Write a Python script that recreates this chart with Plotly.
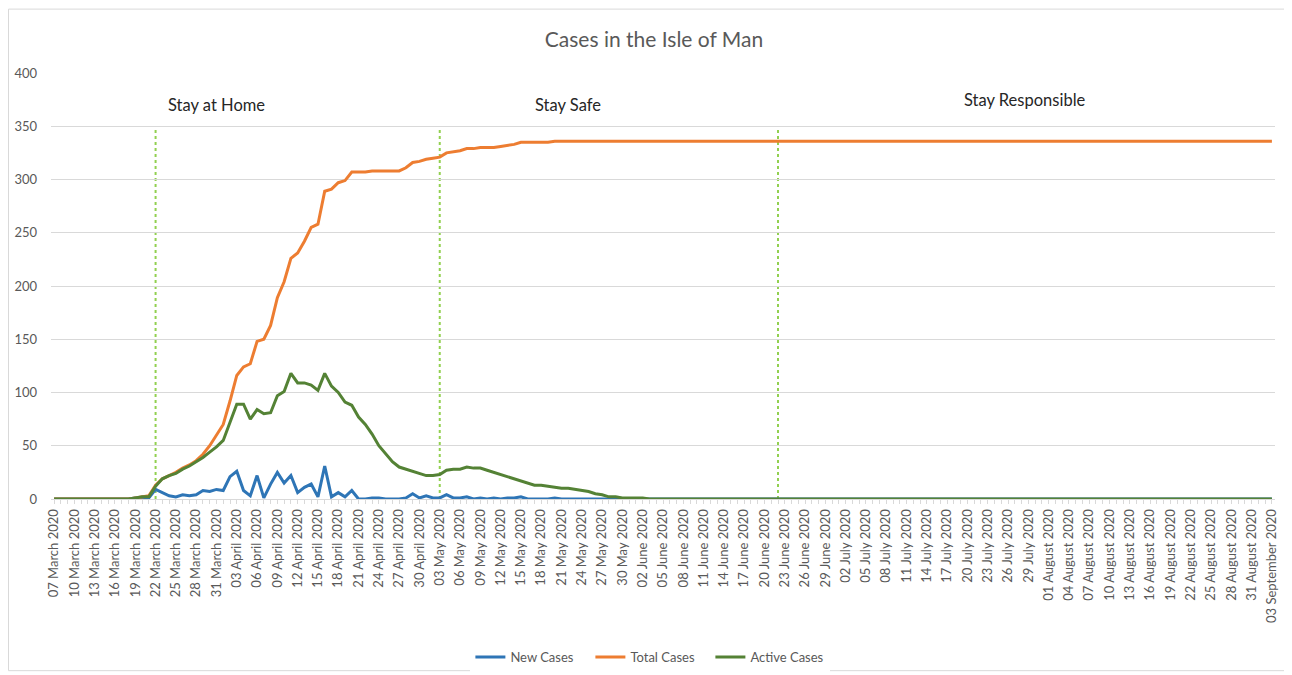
import plotly.graph_objects as go
import pandas as pd

start_date = "2020-03-07"
end_date = "2020-09-03"
dates = pd.date_range(start_date, end_date, freq="D")

new_cases = (
    # March 7-31
    [0, 0, 0, 0, 0, 0, 0, 0, 0, 0, 0, 0, 1, 1, 1, 9, 6, 3, 2, 4, 3, 4, 8, 7, 9]
    # April
    + [8, 21, 26, 8, 3, 22, 1, 14, 25, 15, 22, 6, 11, 14, 2, 31, 2, 6, 2, 8,
       0, 0, 1, 1, 0, 0, 0, 1, 5, 1]
    # May
    + [3, 1, 1, 4, 1, 1, 2, 0, 1, 0, 1, 0, 1, 1, 2, 0, 0, 0, 0, 1,
       0, 0, 0, 0, 0, 0, 0, 0, 0, 0, 0]
    # June
    + [0, 0, 0, 0, 0, 0, 0, 0, 0, 0, 0, 0, 0, 0, 0, 0, 0, 0, 0, 0,
       0, 0, 0, 0, 0, 0, 0, 0, 0, 0]
    # July
    + [0, 0, 0, 0, 0, 0, 0, 0, 0, 0, 0, 0, 0, 0, 0, 0, 0, 0, 0, 0,
       0, 0, 0, 0, 0, 0, 0, 0, 0, 0, 0]
    # August
    + [0, 0, 0, 0, 0, 0, 0, 0, 0, 0, 0, 0, 0, 0, 0, 0, 0, 0, 0, 0,
       0, 0, 0, 0, 0, 0, 0, 0, 0, 0, 0]
    # September 1-3
    + [0, 0, 0]
)

total_cases = (
    [0, 0, 0, 0, 0, 0, 0, 0, 0, 0, 0, 0, 1, 2, 3, 13, 19, 22, 25, 29, 32, 36, 42, 50, 60]
    + [70, 92, 116, 124, 127, 148, 150, 163, 189, 204, 226, 231, 242, 255, 258, 289, 291, 297, 299, 307,
       307, 307, 308, 308, 308, 308, 308, 311, 316, 317]
    + [319, 320, 321, 325, 326, 327, 329, 329, 330, 330, 330, 331, 332, 333, 335, 335, 335, 335, 335, 336,
       336, 336, 336, 336, 336, 336, 336, 336, 336, 336, 336]
    + [336, 336, 336, 336, 336, 336, 336, 336, 336, 336, 336, 336, 336, 336, 336, 336, 336, 336, 336, 336,
       336, 336, 336, 336, 336, 336, 336, 336, 336, 336]
    + [336, 336, 336, 336, 336, 336, 336, 336, 336, 336, 336, 336, 336, 336, 336, 336, 336, 336, 336, 336,
       336, 336, 336, 336, 336, 336, 336, 336, 336, 336, 336]
    + [336, 336, 336, 336, 336, 336, 336, 336, 336, 336, 336, 336, 336, 336, 336, 336, 336, 336, 336, 336,
       336, 336, 336, 336, 336, 336, 336, 336, 336, 336, 336]
    + [336, 336, 336]
)

active_cases = (
    [0, 0, 0, 0, 0, 0, 0, 0, 0, 0, 0, 0, 1, 2, 2, 12, 19, 22, 24, 28, 31, 35, 39, 44, 49]
    + [55, 72, 89, 89, 75, 84, 80, 81, 97, 101, 118, 109, 109, 107, 102, 118, 106, 100, 91, 88,
       77, 70, 61, 50, 42, 35, 30, 28, 26, 24]
    + [22, 22, 23, 27, 28, 28, 30, 29, 29, 27, 25, 23, 21, 19, 17, 15, 13, 13, 12, 11,
       10, 10, 9, 8, 7, 5, 4, 2, 2, 1, 1]
    + [1, 1, 0, 0, 0, 0, 0, 0, 0, 0, 0, 0, 0, 0, 0, 0, 0, 0, 0, 0,
       0, 0, 0, 0, 0, 0, 0, 0, 0, 0]
    + [0, 0, 0, 0, 0, 0, 0, 0, 0, 0, 0, 0, 0, 0, 0, 0, 0, 0, 0, 0,
       0, 0, 0, 0, 0, 0, 0, 0, 0, 0, 0]
    + [0, 0, 0, 0, 0, 0, 0, 0, 0, 0, 0, 0, 0, 0, 0, 0, 0, 0, 0, 0,
       0, 0, 0, 0, 0, 0, 0, 0, 0, 0, 0]
    + [0, 0, 0]
)

phase_dates = ["2020-03-22", "2020-05-03", "2020-06-22"]
phase_labels = ["Stay at Home", "Stay Safe", "Stay Responsible"]
phase_label_x = ["2020-03-31", "2020-05-22", "2020-07-28 12:00"]
phase_label_y = [370, 370, 375]
phase_line_top = 350

series = [
    ("New Cases", new_cases, "#2E75B6"),
    ("Total Cases", total_cases, "#ED7D31"),
    ("Active Cases", active_cases, "#548235"),
]

FONT = "Lato, 'Open Sans', sans-serif"
GREY = "#595959"

fig = go.Figure()
for name, vals, col in series:
    fig.add_trace(go.Scatter(
        x=dates, y=vals, name=name, mode="lines",
        line=dict(color=col, width=3),
    ))

for d in phase_dates:
    fig.add_shape(type="line", xref="x", yref="y", x0=d, x1=d, y0=0, y1=phase_line_top,
                  line=dict(color="#92D050", width=2, dash="dot"), layer="below")

for lab, lx, ly in zip(phase_labels, phase_label_x, phase_label_y):
    fig.add_annotation(x=lx, y=ly, xref="x", yref="y", text=lab, showarrow=False,
                       font=dict(family=FONT, size=16.5, color="#262626"))

# chart border
fig.add_shape(type="rect", xref="paper", yref="paper",
              x0=-0.0347, x1=1.0114, y0=-0.403, y1=1.150,
              line=dict(color="#D9D9D9", width=1), fillcolor="rgba(0,0,0,0)")

fig.update_layout(
    width=1292, height=675,
    margin=dict(l=43, r=25, t=65, b=183),
    paper_bgcolor="white", plot_bgcolor="white",
    title=dict(text="Cases in the Isle of Man", x=0.5, xanchor="center",
               y=1 - 32 / 675, yanchor="middle",
               font=dict(family=FONT, size=21, color=GREY)),
    font=dict(family=FONT, color=GREY),
    showlegend=True,
    legend=dict(orientation="h", x=0.4897, xanchor="center", y=-0.368, yanchor="middle",
                font=dict(family=FONT, size=13, color=GREY), itemwidth=30,
                entrywidth=75, entrywidthmode="pixels",
                traceorder="normal"),
    xaxis=dict(
        automargin=False,
        range=["2020-03-06 13:00", "2020-09-03 11:00"],
        tickmode="linear", tick0=start_date, dtick=3 * 86400000,
        tickformat="%d %B %Y", tickangle=-90,
        tickfont=dict(family=FONT, size=13, color=GREY),
        showgrid=False, zeroline=False,
        showline=True, linecolor="#D9D9D9", linewidth=1,
        ticks="outside", ticklen=4, tickcolor="#D9D9D9",
        minor=dict(dtick=86400000, tick0=start_date, ticks="outside", ticklen=4, tickcolor="#D9D9D9"),
    ),
    yaxis=dict(
        automargin=False,
        range=[0, 400], dtick=50, tick0=0,
        tickfont=dict(family=FONT, size=13, color=GREY),
        showgrid=True, gridcolor="#D9D9D9", gridwidth=1,
        zeroline=False, showline=False, ticks="", ticklabelstandoff=13,
    ),
)

fig.write_html("out.html")
